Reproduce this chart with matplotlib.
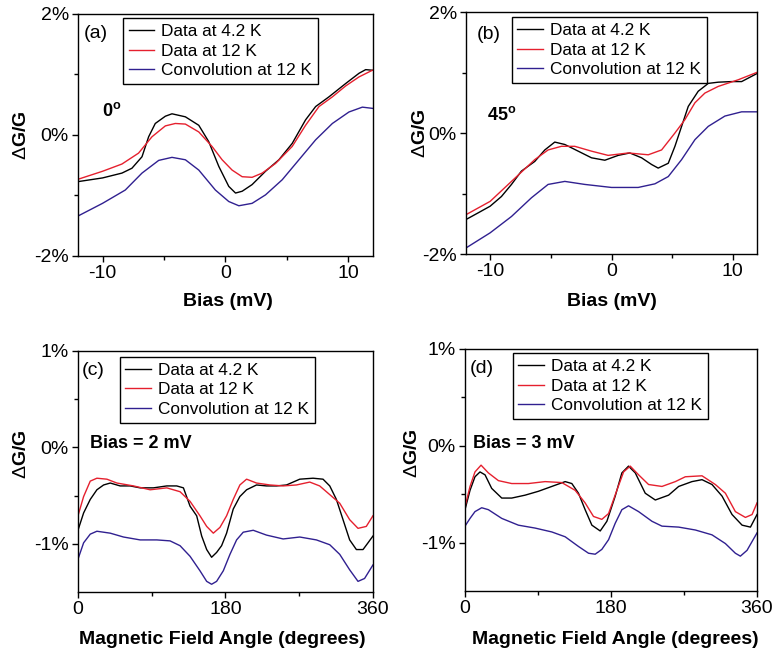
import matplotlib
matplotlib.use('Agg')
import matplotlib.pyplot as plt
from matplotlib.ticker import FixedLocator, FixedFormatter

plt.rcParams['font.family'] = ['Liberation Sans', 'DejaVu Sans']
plt.rcParams['mathtext.fontset'] = 'custom'
plt.rcParams['mathtext.rm'] = 'Liberation Sans'
plt.rcParams['mathtext.bf'] = 'Liberation Sans:bold'

# ---- data (values in %) ----
# (a) 0 deg, vs bias
a_black_x = [-11.96, -10, -8.42, -7.61, -6.79, -6.25, -5.71, -4.89, -4.35, -3.26, -2.17, -1.36, -0.54, 0.27,
             0.82, 1.36, 2.17, 3.26, 4.35, 5.43, 6.52, 7.34, 8.42, 9.78, 10.87, 11.41, 11.96]
a_black_y = [-0.77, -0.71, -0.63, -0.55, -0.36, -0.03, 0.19, 0.31, 0.35, 0.30, 0.16, -0.11, -0.52, -0.85,
             -0.96, -0.93, -0.82, -0.60, -0.41, -0.14, 0.25, 0.47, 0.63, 0.85, 1.02, 1.08, 1.07]
a_red_x = [-11.96, -10, -8.42, -7.07, -5.98, -4.89, -4.08, -3.26, -2.17, -1.09, -0.27, 0.54, 1.36, 2.17,
           2.99, 4.08, 5.43, 6.52, 7.61, 8.70, 9.78, 10.87, 11.96]
a_red_y = [-0.73, -0.60, -0.48, -0.30, -0.03, 0.15, 0.19, 0.18, 0.05, -0.19, -0.41, -0.58, -0.69, -0.70,
           -0.63, -0.47, -0.19, 0.16, 0.47, 0.63, 0.81, 0.96, 1.07]
a_conv_x = [-12.0, -10, -8.15, -6.79, -5.43, -4.35, -3.26, -2.17, -0.82, 0.27, 1.09, 2.17, 3.26, 4.62,
            5.98, 7.34, 8.70, 10.05, 11.14, 11.96]
a_conv_y = [-1.34, -1.13, -0.91, -0.63, -0.42, -0.37, -0.41, -0.58, -0.91, -1.10, -1.17, -1.13, -0.99, -0.74,
            -0.41, -0.08, 0.19, 0.38, 0.46, 0.44]

# (b) 45 deg, vs bias
b_black_x = [-12.0, -11.0, -10.01, -9.08, -8.25, -7.43, -6.33, -5.50, -4.68, -3.85, -2.75, -1.65, -0.55, 0.55,
             1.51, 2.48, 3.30, 3.85, 4.68, 5.23, 5.78, 6.33, 7.15, 7.98, 8.80, 9.90, 10.73, 11.97]
b_black_y = [-1.43, -1.32, -1.21, -1.05, -0.85, -0.63, -0.47, -0.28, -0.15, -0.19, -0.30, -0.41, -0.45, -0.37,
             -0.33, -0.41, -0.52, -0.58, -0.50, -0.22, 0.11, 0.44, 0.69, 0.82, 0.84, 0.85, 0.85, 0.98]
b_red_x = [-12.0, -10.01, -8.25, -6.33, -5.23, -4.13, -3.03, -1.65, -0.28, 1.38, 3.03, 4.13, 5.23, 6.05,
           6.88, 7.70, 8.80, 10.45, 11.97]
b_red_y = [-1.35, -1.13, -0.80, -0.44, -0.28, -0.22, -0.22, -0.30, -0.37, -0.33, -0.36, -0.28, 0.0, 0.22,
           0.50, 0.66, 0.77, 0.88, 1.0]
b_conv_x = [-12.0, -10.01, -8.25, -6.60, -5.23, -3.85, -2.20, 0, 2.20, 3.58, 4.68, 5.78, 6.88, 7.98,
            9.35, 10.73, 11.97]
b_conv_y = [-1.90, -1.65, -1.38, -1.07, -0.85, -0.80, -0.85, -0.90, -0.90, -0.84, -0.72, -0.44, -0.11, 0.11,
            0.28, 0.35, 0.35]

# (c) bias 2 mV, vs field angle
c_black_x = [0, 6.9, 15.0, 23.1, 31.3, 39.4, 51.5, 63.7, 75.9, 92.1, 108.4, 120.5, 128.7, 136.8, 144.9,
             151.0, 157.1, 163.1, 169.2, 175.3, 181.4, 189.5, 197.6, 205.8, 217.9, 230.1, 242.3, 254.5,
             270.7, 286.9, 299.1, 307.3, 315.4, 323.5, 331.6, 339.8, 347.9, 354.0, 360]
c_black_y = [-0.86, -0.68, -0.54, -0.44, -0.39, -0.37, -0.40, -0.40, -0.42, -0.42, -0.40, -0.40, -0.42, -0.61,
             -0.71, -0.92, -1.06, -1.14, -1.09, -1.02, -0.89, -0.64, -0.51, -0.44, -0.39, -0.40, -0.40,
             -0.39, -0.33, -0.32, -0.33, -0.40, -0.54, -0.75, -0.96, -1.06, -1.06, -0.99, -0.92]
c_red_x = [0, 6.9, 15.0, 23.1, 35.3, 47.5, 67.8, 88.1, 108.4, 124.6, 136.8, 148.9, 157.1, 165.2, 173.3,
           181.4, 189.5, 197.6, 205.8, 217.9, 234.2, 250.4, 266.6, 282.9, 295.0, 307.3, 319.5, 331.6,
           341.8, 351.9, 360]
c_red_y = [-0.71, -0.51, -0.35, -0.32, -0.33, -0.37, -0.40, -0.44, -0.42, -0.46, -0.56, -0.71, -0.82, -0.89,
           -0.83, -0.71, -0.54, -0.39, -0.33, -0.37, -0.39, -0.40, -0.39, -0.36, -0.40, -0.49, -0.58,
           -0.75, -0.84, -0.82, -0.71]
c_conv_x = [0, 6.9, 15.0, 23.1, 39.4, 55.6, 75.9, 96.2, 112.4, 124.6, 136.8, 148.9, 157.1, 163.1, 169.2,
            177.4, 185.5, 193.6, 201.7, 213.9, 230.1, 250.4, 270.7, 291.0, 307.3, 319.5, 331.6, 341.8,
            349.8, 360]
c_conv_y = [-1.16, -0.99, -0.90, -0.87, -0.89, -0.93, -0.96, -0.96, -0.97, -1.02, -1.13, -1.28, -1.39, -1.42,
            -1.39, -1.28, -1.11, -0.96, -0.88, -0.86, -0.91, -0.95, -0.93, -0.96, -1.01, -1.11, -1.27,
            -1.39, -1.36, -1.22]

# (d) bias 3 mV, vs field angle
d_black_x = [0, 6.2, 12.3, 18.5, 24.7, 32.9, 45.3, 57.6, 74.1, 90.5, 107.0, 123.5, 131.7, 139.9, 148.1,
             156.4, 166.7, 174.9, 185.2, 193.4, 201.6, 209.9, 222.2, 234.6, 251.0, 263.4, 279.8, 292.2,
             304.5, 316.9, 329.2, 341.6, 351.9, 360]
d_black_y = [-0.66, -0.46, -0.32, -0.27, -0.30, -0.44, -0.54, -0.54, -0.51, -0.47, -0.42, -0.37, -0.39, -0.49,
             -0.66, -0.82, -0.88, -0.78, -0.52, -0.28, -0.21, -0.28, -0.49, -0.56, -0.51, -0.42, -0.37,
             -0.35, -0.40, -0.52, -0.71, -0.82, -0.84, -0.71]
d_red_x = [0, 6.2, 12.3, 19.8, 28.8, 41.2, 57.6, 78.2, 98.8, 119.3, 135.8, 148.1, 158.4, 168.7, 177.0,
           187.2, 195.5, 203.7, 214.0, 226.3, 242.8, 259.3, 271.6, 292.2, 308.6, 321.0, 333.3, 345.7,
           353.9, 360]
d_red_y = [-0.63, -0.42, -0.27, -0.20, -0.28, -0.36, -0.39, -0.39, -0.37, -0.38, -0.46, -0.59, -0.73, -0.76,
           -0.70, -0.46, -0.27, -0.21, -0.30, -0.40, -0.42, -0.37, -0.32, -0.31, -0.40, -0.49, -0.68,
           -0.74, -0.71, -0.59]
d_conv_x = [0, 6.2, 12.3, 20.6, 28.8, 45.3, 65.8, 86.4, 107.0, 123.5, 139.9, 152.3, 160.5, 168.7, 177.0,
            185.2, 193.4, 201.6, 214.0, 230.5, 242.8, 263.4, 284.0, 304.5, 321.0, 333.3, 339.5, 347.7, 360]
d_conv_y = [-0.83, -0.75, -0.68, -0.64, -0.66, -0.75, -0.82, -0.85, -0.89, -0.94, -1.04, -1.11, -1.12, -1.07,
            -0.97, -0.80, -0.66, -0.62, -0.68, -0.78, -0.83, -0.84, -0.87, -0.92, -1.01, -1.11, -1.14,
            -1.08, -0.90]

series_labels = ['Data at 4.2 K', 'Data at 12 K', 'Convolution at 12 K']
colors = ['black', '#e5202e', '#302090']

bias_ticks = [-10, 0, 10]
bias_ticklabels = ['-10', '0', '10']
angle_ticks = [0, 180, 360]
angle_ticklabels = ['0', '180', '360']

# ---- figure ----
fig = plt.figure(figsize=(7.75, 6.56), dpi=100)

# axes rects in figure fraction
rects = {'a': [0.1006, 0.6098, 0.3806, 0.3689],
         'b': [0.6013, 0.6128, 0.3755, 0.3689],
         'c': [0.1006, 0.0976, 0.3806, 0.3674],
         'd': [0.6000, 0.0991, 0.3768, 0.3689]}

panels = {
    'a': dict(data=[(a_black_x, a_black_y), (a_red_x, a_red_y), (a_conv_x, a_conv_y)],
              xlim=(-12, 12), xt=bias_ticks, xtl=bias_ticklabels, xminor=[-5, 5],
              ylim=(-2, 2), yt=[-2, 0, 2], ytl=['-2%', '0%', '2%'], yminor=[-1, 1],
              xlabel='Bias (mV)', note=r'$\mathbf{0^o}$', note_pos=(0.08, 0.60),
              leg=(0.153, 0.983), tag_pos=(0.061, 0.921),
              xlab_pos=(0.51, -0.19), ylab_pos=(-0.193, 0.5)),
    'b': dict(data=[(b_black_x, b_black_y), (b_red_x, b_red_y), (b_conv_x, b_conv_y)],
              xlim=(-12, 12), xt=bias_ticks, xtl=bias_ticklabels, xminor=[-5, 5],
              ylim=(-2, 2), yt=[-2, 0, 2], ytl=['-2%', '0%', '2%'], yminor=[-1, 1],
              xlabel='Bias (mV)', note=r'$\mathbf{45^o}$', note_pos=(0.072, 0.574),
              leg=(0.158, 0.979), tag_pos=(0.079, 0.905),
              xlab_pos=(0.50, -0.198), ylab_pos=(-0.158, 0.5)),
    'c': dict(data=[(c_black_x, c_black_y), (c_red_x, c_red_y), (c_conv_x, c_conv_y)],
              xlim=(0, 360), xt=angle_ticks, xtl=angle_ticklabels, xminor=[90, 270],
              ylim=(-1.5, 1), yt=[-1, 0, 1], ytl=['-1%', '0%', '1%'], yminor=[-0.5, 0.5],
              xlabel='Magnetic Field Angle (degrees)', note='Bias = 2 mV', note_pos=(0.04, 0.614),
              leg=(0.142, 0.975), tag_pos=(0.051, 0.92),
              xlab_pos=(0.488, -0.199), ylab_pos=(-0.193, 0.57)),
    'd': dict(data=[(d_black_x, d_black_y), (d_red_x, d_red_y), (d_conv_x, d_conv_y)],
              xlim=(0, 360), xt=angle_ticks, xtl=angle_ticklabels, xminor=[90, 270],
              ylim=(-1.5, 1), yt=[-1, 0, 1], ytl=['-1%', '0%', '1%'], yminor=[-0.5, 0.5],
              xlabel='Magnetic Field Angle (degrees)', note='Bias = 3 mV', note_pos=(0.027, 0.61),
              leg=(0.164, 0.983), tag_pos=(0.058, 0.92),
              xlab_pos=(0.514, -0.2), ylab_pos=(-0.18, 0.57)),
}

for key in ['a', 'b', 'c', 'd']:
    p = panels[key]
    ax = fig.add_axes(rects[key])
    for (xs, ys), c, lab in zip(p['data'], colors, series_labels):
        ax.plot(xs, ys, color=c, lw=1.0, label=lab)

    ax.set_xlim(*p['xlim'])
    ax.set_ylim(*p['ylim'])
    ax.xaxis.set_major_locator(FixedLocator(p['xt']))
    ax.xaxis.set_major_formatter(FixedFormatter(p['xtl']))
    ax.xaxis.set_minor_locator(FixedLocator(p['xminor']))
    ax.yaxis.set_major_locator(FixedLocator(p['yt']))
    ax.yaxis.set_major_formatter(FixedFormatter(p['ytl']))
    ax.yaxis.set_minor_locator(FixedLocator(p['yminor']))
    ax.tick_params(which='major', direction='out', length=4.5, width=1.0, labelsize=14, pad=2)
    ax.tick_params(which='minor', direction='out', length=3, width=1.0)
    for s in ax.spines.values():
        s.set_linewidth(1.0)

    ax.set_xlabel(p['xlabel'], fontsize=14, fontweight='bold', va='center')
    ax.xaxis.set_label_coords(*p['xlab_pos'])
    ax.set_ylabel(r'$\Delta$G/G', fontsize=14, fontweight='bold', va='center')
    ax.yaxis.set_label_coords(*p['ylab_pos'])

    ax.text(p['tag_pos'][0], p['tag_pos'][1], '(%s)' % key, transform=ax.transAxes,
            fontsize=14, ha='center', va='center')
    ax.text(p['note_pos'][0], p['note_pos'][1], p['note'], transform=ax.transAxes,
            fontsize=13, fontweight='bold', ha='left', va='center')

    leg = ax.legend(loc='upper left', bbox_to_anchor=p['leg'], borderaxespad=0,
                    fontsize=12.4, fancybox=False, framealpha=1, edgecolor='black',
                    handlelength=1.5, handletextpad=0.4, labelspacing=0.28, borderpad=0.32)
    leg.get_frame().set_linewidth(1.0)

fig.savefig('out.png', dpi=100)
